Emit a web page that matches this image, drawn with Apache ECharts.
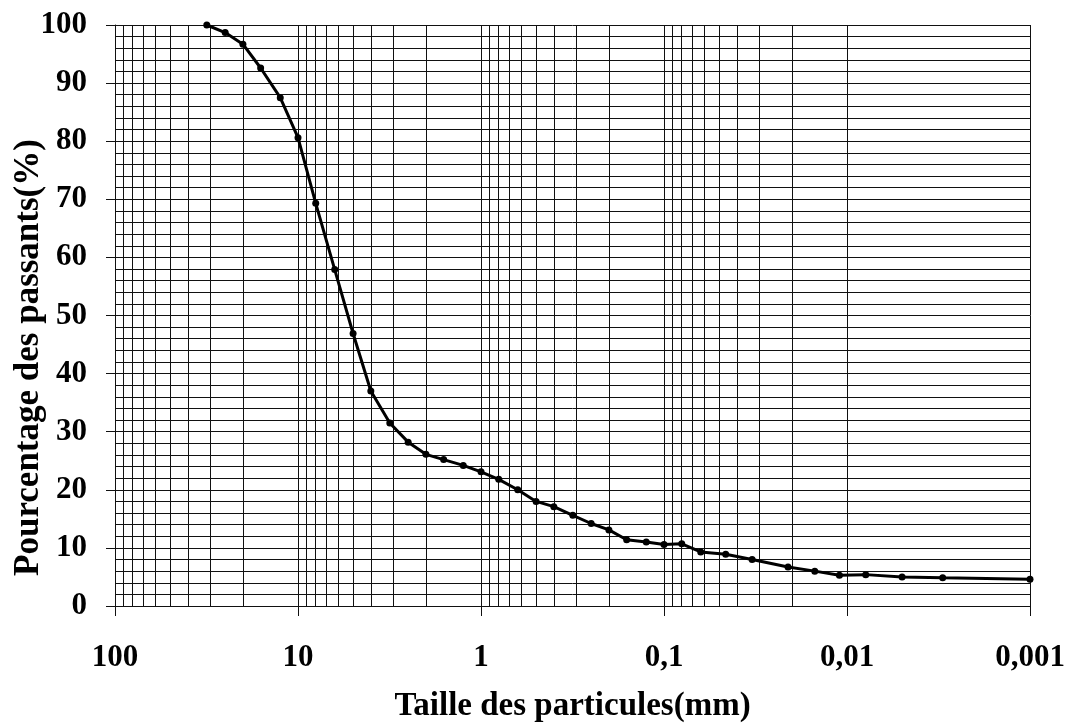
<!DOCTYPE html>
<html>
<head>
<meta charset="utf-8">
<script src="https://cdn.jsdelivr.net/npm/echarts@6/dist/echarts.min.js"></script>
<style>
  html, body { margin: 0; padding: 0; background: #fff; }
  #chart { width: 1070px; height: 724px; }
</style>
</head>
<body>
<div id="chart"></div>
<script>
// Courbe granulométrique : tamis (mm) et pourcentage des passants
const sizesMm = [31.5, 25, 20, 16, 12.5, 10, 8, 6.3, 5, 4, 3.15, 2.5, 2, 1.6, 1.25, 1,
  0.8, 0.63, 0.5, 0.4, 0.315, 0.25, 0.2, 0.16, 0.125, 0.1, 0.08, 0.063, 0.046, 0.033,
  0.021, 0.015, 0.011, 0.0079, 0.005, 0.003, 0.001];
const passingPct = [100, 98.7, 96.7, 92.6, 87.5, 80.6, 69.3, 57.9, 46.9, 37.0, 31.5, 28.2, 26.1, 25.2, 24.2, 23.1,
  21.8, 20.0, 18.0, 17.1, 15.6, 14.2, 13.1, 11.4, 11.0, 10.6, 10.7, 9.3, 8.9, 8.0,
  6.7, 6.0, 5.3, 5.4, 5.0, 4.85, 4.6];

// Décades de l'axe des tailles et leurs libellés
const xDecades = [100, 10, 1, 0.1, 0.01, 0.001];
const xTickLabels = ['100', '10', '1', '0,1', '0,01', '0,001'];
const yTicks = [0, 10, 20, 30, 40, 50, 60, 70, 80, 90, 100];

// Graduations intermédiaires du papier semi-logarithmique (2 à 9 dans chaque décade)
const minorGridMm = [];
xDecades.slice(1).forEach(function (d) {
  for (let k = 2; k <= 9; k++) minorGridMm.push(+(d * k).toPrecision(3));
});

const FONT = '"Liberation Serif", "Times New Roman", serif';
const INK = '#111';

const chart = echarts.init(document.getElementById('chart'), null, { renderer: 'canvas' });
chart.setOption({
  animation: false,
  backgroundColor: '#fff',
  grid: { left: 115, right: 40, top: 25, bottom: 118, containLabel: false, outerBoundsMode: 'none' },
  xAxis: {
    type: 'log',
    logBase: 10,
    min: 0.001,
    max: 100,
    inverse: true,
    splitNumber: 5,
    name: 'Taille des particules(mm)',
    nameLocation: 'middle',
    nameGap: 84,
    nameMoveOverlap: false,
    nameTextStyle: { fontFamily: FONT, fontWeight: 'bold', fontSize: 33, color: '#000' },
    axisLine: { show: true, lineStyle: { color: INK, width: 1 } },
    axisTick: { show: true, length: 10, lineStyle: { color: INK, width: 1 } },
    axisLabel: {
      margin: 36,
      fontFamily: FONT, fontWeight: 'bold', fontSize: 31, color: '#000',
      formatter: function (v) {
        const i = xDecades.findIndex(function (d) { return Math.abs(Math.log10(d) - Math.log10(v)) < 1e-6; });
        return i >= 0 ? xTickLabels[i] : '';
      }
    },
    splitLine: { show: true, lineStyle: { color: INK, width: 1 } }
  },
  yAxis: {
    type: 'value',
    min: yTicks[0],
    max: yTicks[yTicks.length - 1],
    interval: 10,
    name: 'Pourcentage des passants(%)',
    nameLocation: 'middle',
    nameGap: 69,
    nameMoveOverlap: false,
    nameTextStyle: { fontFamily: FONT, fontWeight: 'bold', fontSize: 35, color: '#000', padding: [0, 84, 0, 0] },
    axisLine: { show: true, lineStyle: { color: INK, width: 1 } },
    axisTick: { show: true, length: 9, lineStyle: { color: INK, width: 1 } },
    axisLabel: { margin: 28, fontFamily: FONT, fontWeight: 'bold', fontSize: 31, color: '#000' },
    splitLine: { show: true, lineStyle: { color: INK, width: 1 } },
    minorTick: { show: true, splitNumber: 5, length: 0 },
    minorSplitLine: { show: true, lineStyle: { color: INK, width: 1 } }
  },
  series: [
    {
      // lignes verticales intermédiaires
      type: 'line',
      z: 1,
      silent: true,
      data: [[sizesMm[0], passingPct[0]]],
      symbol: 'none',
      lineStyle: { opacity: 0 },
      markLine: {
        silent: true,
        symbol: ['none', 'none'],
        label: { show: false },
        emphasis: { disabled: true },
        lineStyle: { color: INK, width: 1, type: 'solid' },
        data: minorGridMm.map(function (v) { return { xAxis: v }; })
      }
    },
    {
      type: 'line',
      z: 5,
      clip: false,
      data: sizesMm.map(function (s, i) { return [s, passingPct[i]]; }),
      symbol: 'circle',
      symbolSize: 7,
      itemStyle: { color: '#000' },
      lineStyle: { color: '#000', width: 3 }
    }
  ]
});
</script>
</body>
</html>
